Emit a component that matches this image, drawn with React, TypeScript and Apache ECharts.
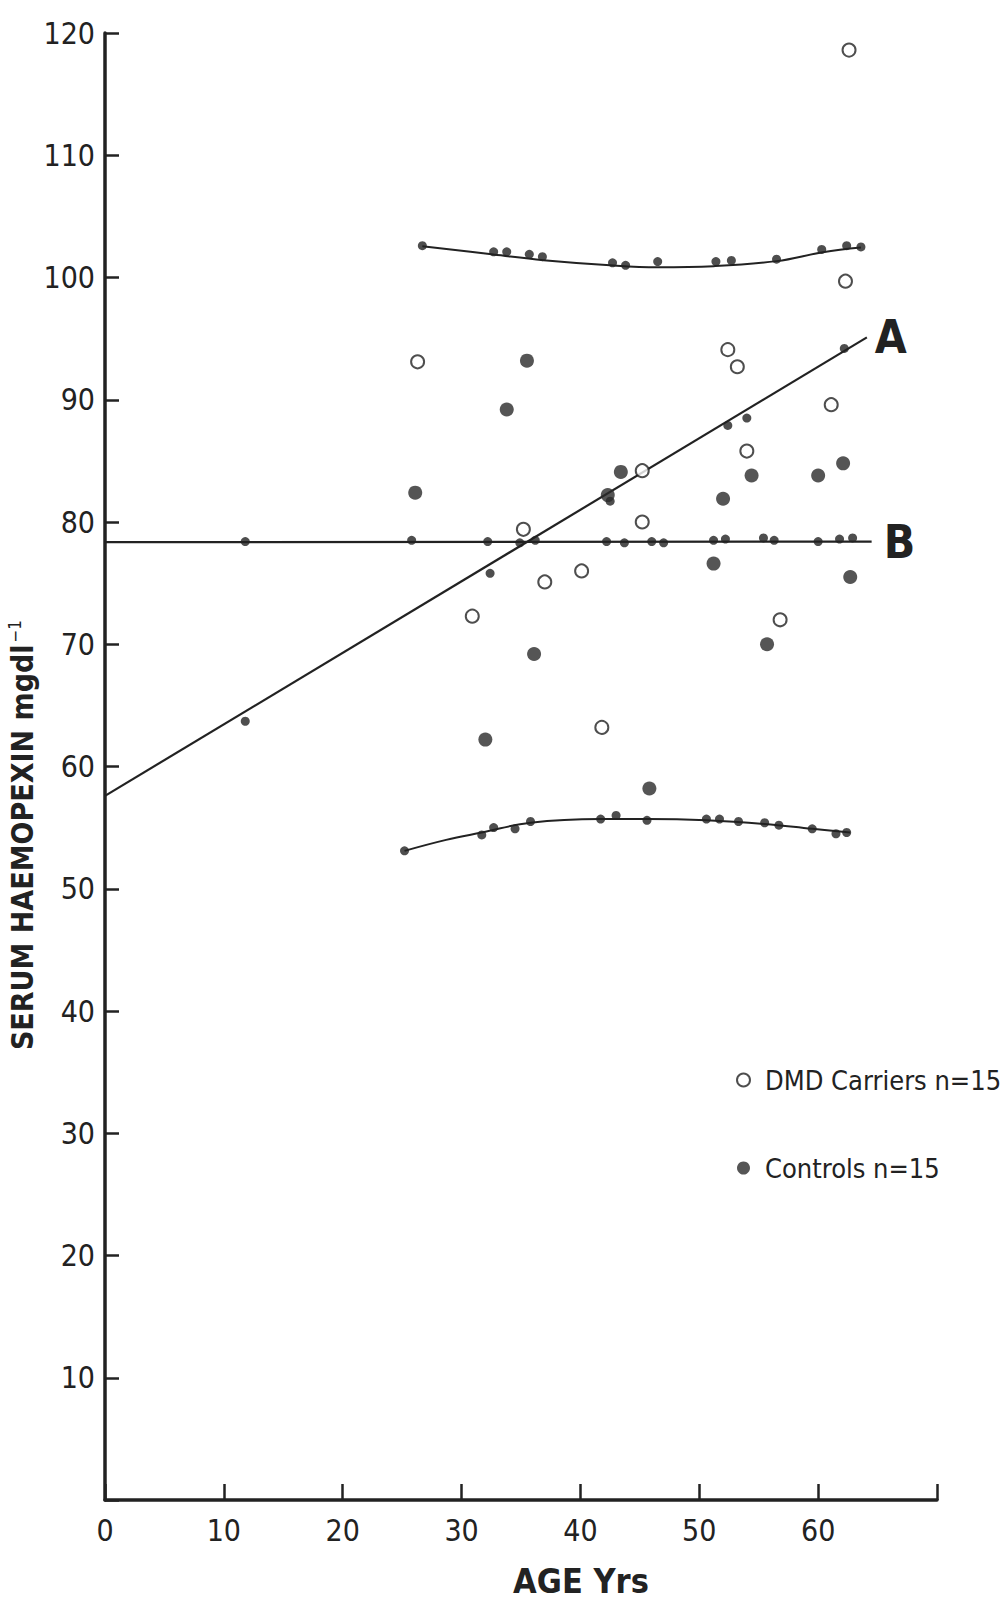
import React, { useEffect, useRef } from "react";
import * as echarts from "echarts";

// ---- data ----
const carriersAge = [62.6, 62.3, 26.3, 52.4, 53.2, 61.1, 54.0, 45.2, 45.2, 35.2, 40.1, 37.0, 30.9, 56.8, 41.8];
const carriersHx = [118.6, 99.7, 93.1, 94.1, 92.7, 89.6, 85.8, 84.2, 80.0, 79.4, 76.0, 75.1, 72.3, 72.0, 63.2];

const controlsAge = [35.5, 33.8, 26.1, 43.4, 42.3, 54.4, 60.0, 62.1, 52.0, 51.2, 62.7, 55.7, 36.1, 32.0, 45.8];
const controlsHx = [93.2, 89.2, 82.4, 84.1, 82.2, 83.8, 83.8, 84.8, 81.9, 76.6, 75.5, 70.0, 69.2, 62.2, 58.2];

// regression line A and mean line B (end points)
const lineAAge = [0, 64.1];
const lineAHx = [57.6, 95.1];
const lineBAge = [0, 64.5];
const lineBHx = [78.35, 78.4];

// fitted points on the lines
const dotsAAge = [11.8, 32.4, 42.5, 52.4, 54.0, 62.2];
const dotsAHx = [63.7, 75.8, 81.7, 87.9, 88.5, 94.2];
const dotsBAge = [11.8, 25.8, 32.2, 34.9, 36.2, 42.2, 43.7, 46.0, 47.0, 51.2, 52.2, 55.4, 56.3, 60.0, 61.8, 62.9];
const dotsBHx = [78.4, 78.5, 78.4, 78.3, 78.5, 78.4, 78.3, 78.4, 78.3, 78.5, 78.6, 78.7, 78.5, 78.4, 78.6, 78.7];

// upper and lower limit curves
const upperCurveAge = [26.7, 32.7, 36.9, 42.8, 46.5, 51.2, 56.5, 60.4, 63.6];
const upperCurveHx = [102.56, 101.88, 101.42, 100.98, 100.84, 100.93, 101.34, 102.07, 102.45];
const upperDotsAge = [26.7, 32.7, 33.8, 35.7, 36.8, 42.7, 43.8, 46.5, 51.4, 52.7, 56.5, 60.3, 62.4, 63.6];
const upperDotsHx = [102.6, 102.1, 102.1, 101.9, 101.7, 101.2, 101.0, 101.3, 101.3, 101.4, 101.5, 102.3, 102.6, 102.5];

const lowerCurveAge = [25.2, 28.7, 31.7, 35.8, 41.7, 45.6, 50.6, 55.5, 59.5, 62.7];
const lowerCurveHx = [53.1, 54.0, 54.6, 55.4, 55.7, 55.7, 55.6, 55.3, 54.9, 54.6];
const lowerDotsAge = [25.2, 31.7, 32.7, 34.5, 35.8, 41.7, 43.0, 45.6, 50.6, 51.7, 53.3, 55.5, 56.7, 59.5, 61.5, 62.4];
const lowerDotsHx = [53.1, 54.4, 55.0, 54.9, 55.5, 55.7, 56.0, 55.6, 55.7, 55.7, 55.5, 55.4, 55.2, 54.9, 54.5, 54.6];

const xTicks = [0, 10, 20, 30, 40, 50, 60];
const yTicks = [10, 20, 30, 40, 50, 60, 70, 80, 90, 100, 110, 120];

const carriersName = "DMD Carriers n=15";
const controlsName = "Controls n=15";

const pair = (xs: number[], ys: number[]) => xs.map((x, i) => [x, ys[i]]);

const INK = "#222222";
const FONT = "'Liberation Sans Narrow', 'DejaVu Sans Condensed', 'Roboto Condensed', 'Liberation Sans', sans-serif";

export default function App() {
  const ref = useRef<HTMLDivElement>(null);

  useEffect(() => {
    if (!ref.current) return;
    const chart = echarts.init(ref.current, null, { renderer: "svg" });

    const smallDot = {
      type: "scatter",
      symbol: "circle",
      symbolSize: 9,
      itemStyle: { color: INK },
      silent: true,
      z: 3,
    };

    chart.setOption({
      animation: false,
      backgroundColor: "#ffffff",
      grid: { left: 105, right: 67, top: 33, bottom: 103, containLabel: false },
      xAxis: {
        type: "value",
        min: 0,
        max: 70,
        interval: 10,
        axisLine: { show: true, lineStyle: { color: INK, width: 3.5 } },
        axisTick: { show: true, inside: true, length: 16, lineStyle: { color: INK, width: 2.5 } },
        axisLabel: {
          color: INK,
          fontSize: 30,
          fontFamily: FONT,
          margin: 15,
          formatter: (v: number) => (xTicks.includes(v) ? String(v) : ""),
        },
        splitLine: { show: false },
        name: "AGE Yrs",
        nameLocation: "middle",
        nameGap: 64,
        nameTextStyle: {
          color: INK,
          fontSize: 34,
          fontWeight: "bold",
          fontFamily: FONT,
          padding: [0, 0, 0, 120],
        },
      },
      yAxis: {
        type: "value",
        min: 0,
        max: 120,
        interval: 10,
        axisLine: { show: true, lineStyle: { color: INK, width: 3.5 } },
        axisTick: { show: true, inside: true, length: 14, lineStyle: { color: INK, width: 2.5 } },
        axisLabel: {
          color: INK,
          fontSize: 30,
          fontFamily: FONT,
          margin: 10,
          formatter: (v: number) => (yTicks.includes(v) ? String(v) : ""),
        },
        splitLine: { show: false },
      },
      legend: {
        data: [carriersName, controlsName],
        orient: "vertical",
        left: 731,
        top: 1058,
        itemGap: 54,
        itemWidth: 13,
        itemHeight: 13,
        icon: "circle",
        textStyle: { color: INK, fontSize: 27, fontFamily: FONT, padding: [0, 0, 0, 10], lineHeight: 34 },
        selectedMode: false,
      },
      graphic: [
        {
          type: "text",
          x: 22,
          y: 835,
          rotation: Math.PI / 2,
          style: {
            text: "{m|SERUM HAEMOPEXIN mgdl}{s|−1}",
            align: "center",
            verticalAlign: "middle",
            fill: INK,
            rich: {
              m: { fontSize: 30, fontWeight: "bold", fontFamily: FONT, fill: INK },
              s: { fontSize: 17, fontFamily: FONT, fill: INK, padding: [0, 0, 14, 2] },
            },
          },
        },
      ],
      series: [
        {
          name: "lineA",
          type: "line",
          data: pair(lineAAge, lineAHx),
          showSymbol: false,
          lineStyle: { color: INK, width: 2.2 },
          silent: true,
          z: 2,
          endLabel: {
            show: true,
            formatter: "A",
            color: INK,
            fontSize: 46,
            fontWeight: "bold",
            fontFamily: FONT,
            distance: 8,
          },
        },
        {
          name: "lineB",
          type: "line",
          data: pair(lineBAge, lineBHx),
          showSymbol: false,
          lineStyle: { color: INK, width: 2.2 },
          silent: true,
          z: 2,
          endLabel: {
            show: true,
            formatter: "B",
            color: INK,
            fontSize: 46,
            fontWeight: "bold",
            fontFamily: FONT,
            distance: 12,
          },
        },
        {
          name: "upperCurve",
          type: "line",
          data: pair(upperCurveAge, upperCurveHx),
          smooth: 0.4,
          showSymbol: false,
          lineStyle: { color: INK, width: 2 },
          silent: true,
          z: 2,
        },
        {
          name: "lowerCurve",
          type: "line",
          data: pair(lowerCurveAge, lowerCurveHx),
          smooth: 0.4,
          showSymbol: false,
          lineStyle: { color: INK, width: 2 },
          silent: true,
          z: 2,
        },
        { ...smallDot, name: "dotsA", data: pair(dotsAAge, dotsAHx) },
        { ...smallDot, name: "dotsB", data: pair(dotsBAge, dotsBHx) },
        { ...smallDot, name: "upperDots", data: pair(upperDotsAge, upperDotsHx) },
        { ...smallDot, name: "lowerDots", data: pair(lowerDotsAge, lowerDotsHx) },
        {
          name: carriersName,
          type: "scatter",
          symbol: "circle",
          symbolSize: 13,
          itemStyle: { color: "#ffffff", borderColor: INK, borderWidth: 2 },
          data: pair(carriersAge, carriersHx),
          z: 4,
        },
        {
          name: controlsName,
          type: "scatter",
          symbol: "circle",
          symbolSize: 14,
          itemStyle: { color: "#2a2a2a" },
          data: pair(controlsAge, controlsHx),
          z: 4,
        },
      ],
    });

    return () => chart.dispose();
  }, []);

  return (
    <div
      ref={ref}
      style={{ position: "absolute", left: 0, top: 0, width: 1004, height: 1603, background: "#fff" }}
    />
  );
}
